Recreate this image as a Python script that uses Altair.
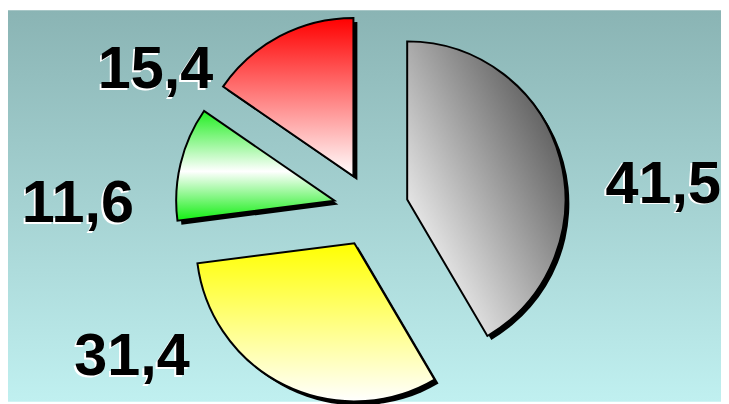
import altair as alt
import pandas as pd

# ---- data ----
keys = ["gray", "yellow", "green", "red"]
labels = ["41,5", "31,4", "11,6", "15,4"]
values = [41.5, 31.4, 11.6, 15.4]

# ---- layout / style ----
W, H = 721, 396
CX, CY = 367, 201.5
R = 160
EXPLODE = 38
LABEL_R = 240
SHADOW = 4

def lin(x1, y1, x2, y2, stops):
    return {"gradient": "linear", "x1": x1, "y1": y1, "x2": x2, "y2": y2,
            "stops": [{"offset": o, "color": c} for o, c in stops]}

styles = {
    "gray": dict(fill=lin(0.1, 1, 0.95, 0.2, [(0, "#ffffff"), (0.15, "#eeeeee"), (1, "#555555")]), dx=64, dy=56),
    "yellow": dict(fill=lin(0, 0, 0, 1, [(0, "#ffff00"), (1, "#ffffff")]), dx=-136, dy=-48),
    "green": dict(fill=lin(0, 0, 0, 1, [(0, "#22ee22"), (0.55, "#ffffff"), (1, "#11ee11")]), dx=-63, dy=69),
    "red": dict(fill=lin(0, 0, 0, 1, [(0, "#ff0000"), (1, "#ffffff")]), dx=-106, dy=90),
}

df = pd.DataFrame({"key": keys, "label": labels, "value": values, "order": list(range(len(keys)))})

base = (
    alt.Chart(df)
    .transform_window(cum="sum(value)", sort=[alt.SortField("order")], frame=[None, 0])
    .transform_joinaggregate(total="sum(value)")
    .transform_calculate(a0="2*PI*(datum.cum - datum.value)/datum.total")
    .transform_calculate(a1="2*PI*datum.cum/datum.total")
    .transform_calculate(mid="(datum.a0 + datum.a1)/2")
    .transform_calculate(ex=f"{CX} + {EXPLODE}*sin(datum.mid)")
    .transform_calculate(ey=f"{CY} - {EXPLODE}*cos(datum.mid)")
    .transform_calculate(sx=f"datum.ex + {SHADOW}")
    .transform_calculate(sy=f"datum.ey + {SHADOW}")
)

bg = alt.Chart(pd.DataFrame({"a": [0]})).mark_rect(
    fill=lin(0, 0, 0, 1, [(0, "#8ab4b4"), (1, "#c0f0f0")])
).encode(x=alt.value(0), x2=alt.value(W), y=alt.value(0), y2=alt.value(H))

layers = [bg]
theta = alt.Theta("a0:Q", scale=None, stack=None)
for k in keys:
    st = styles[k]
    sl = base.transform_filter(alt.datum.key == k)
    shadow = sl.mark_arc(radius=R, fill="black").encode(
        theta=theta, theta2="a1:Q",
        x=alt.X("sx:Q", scale=None), y=alt.Y("sy:Q", scale=None),
    )
    arc = sl.mark_arc(radius=R, fill=st["fill"], stroke="black", strokeWidth=2).encode(
        theta=theta, theta2="a1:Q",
        x=alt.X("ex:Q", scale=None), y=alt.Y("ey:Q", scale=None),
    )
    txt_kw = dict(radius=LABEL_R, font="Liberation Sans", fontWeight="bold", fontSize=60,
                  align="center", baseline="alphabetic")
    white = sl.mark_text(fill="white", dx=st["dx"] - 2, dy=st["dy"] + 2, **txt_kw).encode(
        theta=alt.Theta("mid:Q", scale=None, stack=None),
        x=alt.value(CX), y=alt.value(CY), text="label:N",
    )
    black = sl.mark_text(fill="black", dx=st["dx"], dy=st["dy"], **txt_kw).encode(
        theta=alt.Theta("mid:Q", scale=None, stack=None),
        x=alt.value(CX), y=alt.value(CY), text="label:N",
    )
    layers += [shadow, arc, white, black]

chart = (
    alt.layer(*layers)
    .properties(width=W, height=H, padding=0, autosize=alt.AutoSizeParams(type="none"))
    .configure_view(stroke=None)
)

chart.save("out.html", embed_options={"renderer": "svg", "actions": False})
